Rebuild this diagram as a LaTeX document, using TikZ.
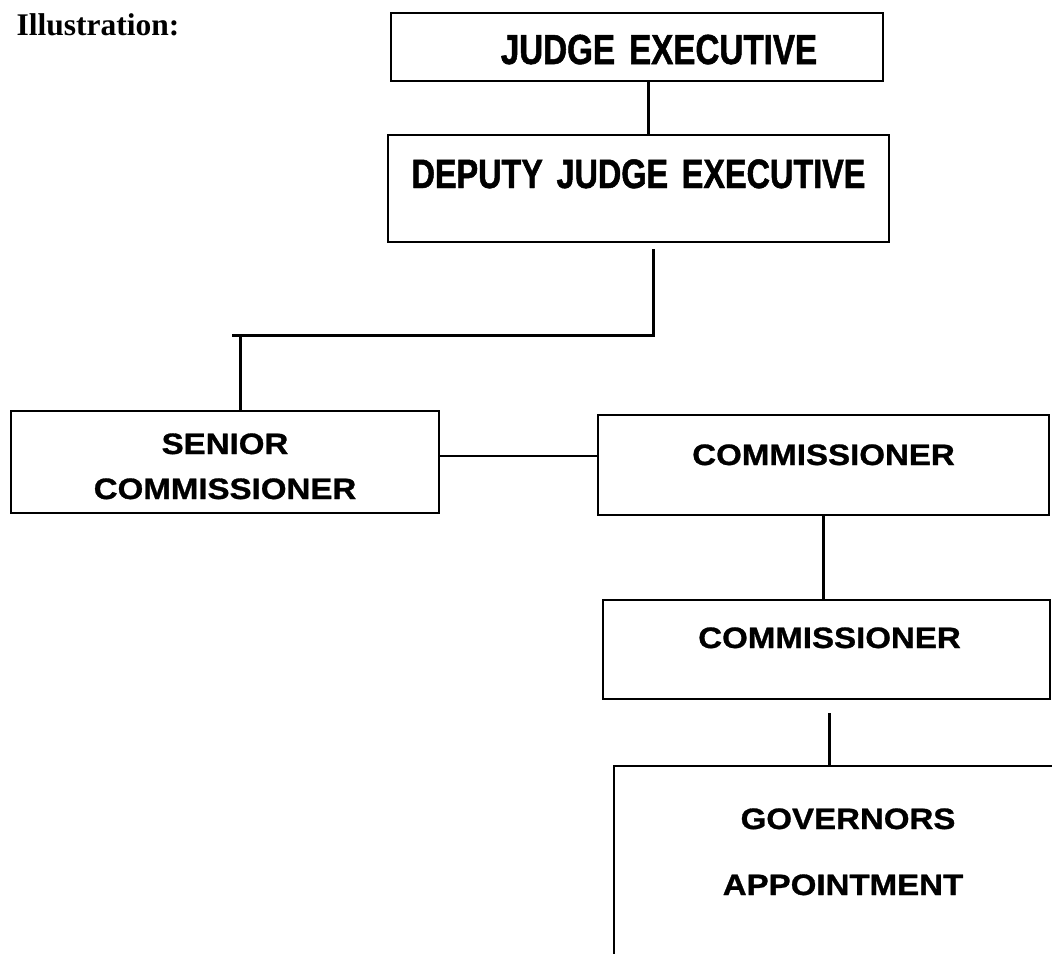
\documentclass[tikz,border=0pt]{standalone}
\usepackage{fontspec}
\setmainfont{Liberation Serif}
\setsansfont{Liberation Sans}
\newfontfamily\NarrowSans[FakeStretch=0.79,FakeBold=1.2]{Liberation Sans}
\newfontfamily\WideSans[FakeStretch=1.12,FakeBold=1]{Liberation Sans}
\usepackage{tikz}
\tikzset{%
  OrgBox/.style={draw,line width=2pt,inner sep=0pt,align=center,anchor=north west},
  OrgLink/.style={line width=3pt}
}

\begin{document}
\begin{tikzpicture}[x=1pt,y=-1pt]
  \useasboundingbox (0,0) rectangle (1052,953);
  \clip (0,0) rectangle (1052,953);
  \node[anchor=base west,font=\fontsize{31.5}{38}\selectfont\bfseries] (ttl) at (13,35) {Illustration:};
  \node[OrgBox,text width=492pt,text height=51pt,text depth=17pt,
    font=\NarrowSans\bfseries\fontsize{42}{50}\selectfont] (jdg) at (390,12) {\hspace*{44pt}JUDGE EXECUTIVE};
  \node[OrgBox,text width=501pt,text height=53pt,text depth=54pt,
    font=\NarrowSans\bfseries\fontsize{41}{50}\selectfont] (dep) at (387,134) {DEPUTY JUDGE EXECUTIVE};
  \node[OrgBox,text width=428pt,text height=43pt,text depth=59pt,
    font=\WideSans\bfseries\fontsize{29.5}{45}\selectfont] (snr) at (10,410) {SENIOR\\COMMISSIONER};
  \node[OrgBox,text width=451pt,text height=50pt,text depth=50pt,
    font=\WideSans\bfseries\fontsize{29.5}{36}\selectfont] (cm1) at (597,414) {COMMISSIONER};
  \node[OrgBox,text width=447pt,text height=48pt,text depth=51pt,
    font=\WideSans\bfseries\fontsize{29.5}{36}\selectfont] (cm2) at (602,599) {\hspace*{6pt}COMMISSIONER};
  \node[OrgBox,text width=458pt,text height=63pt,text depth=172pt,
    font=\WideSans\bfseries\fontsize{29.5}{66}\selectfont] (gov) at (613,765) {\hspace*{10pt}GOVERNORS\\APPOINTMENT};
  \draw[OrgLink] ([xshift=11pt]jdg.south) -- ([xshift=11pt]jdg.south |- dep.north);
  \draw[OrgLink] ([xshift=15pt,yshift=-6pt]dep.south) -- ++(0,86) coordinate (bend)
    -- ([xshift=7pt]snr.north |- bend);
  \draw[OrgLink] ([xshift=15pt]snr.north |- bend) -- ([xshift=15pt]snr.north);
  \draw[line width=2.5pt] ([yshift=6pt]snr.east) -- ([yshift=6pt]snr.east -| cm1.west);
  \draw[OrgLink] (cm1.south) -- (cm1.south |- cm2.north);
  \draw[OrgLink] ([xshift=3pt,yshift=-13pt]cm2.south) -- ([xshift=3pt]cm2.south |- gov.north);
\end{tikzpicture}
\end{document}
